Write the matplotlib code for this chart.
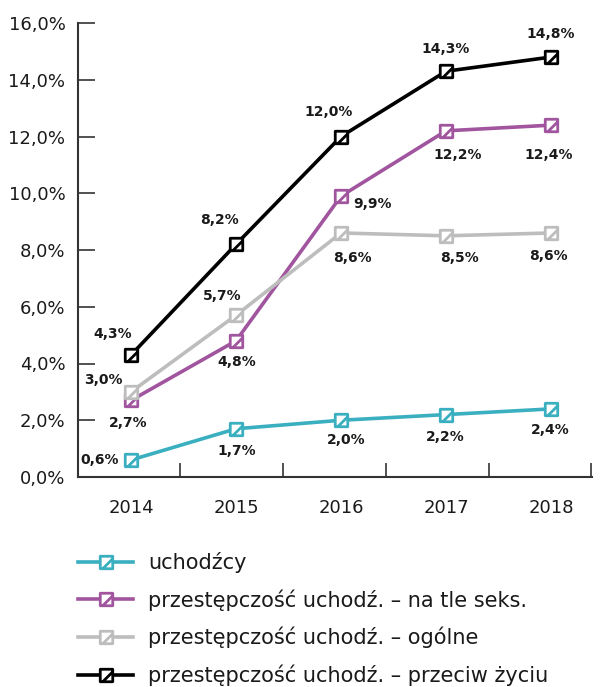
import numpy as np
import matplotlib.pyplot as plt
from matplotlib.path import Path
from matplotlib.lines import Line2D

years = ['2014', '2015', '2016', '2017', '2018']
uchodzcy = [0.6, 1.7, 2.0, 2.2, 2.4]
seks = [2.7, 4.8, 9.9, 12.2, 12.4]
ogolne = [3.0, 5.7, 8.6, 8.5, 8.6]
zycie = [4.3, 8.2, 12.0, 14.3, 14.8]

labels = ['uchodźcy',
          'przestępczość uchodź. – na tle seks.',
          'przestępczość uchodź. – ogólne',
          'przestępczość uchodź. – przeciw życiu']
colors = ['#3aafc0', '#a0559e', '#bdbdbd', '#000000']

# offsets of value labels (pixels)
offs = [
    [(-31, 0), (1, -22), (5, -20), (-1, -22), (-1, -21)],
    [(-3, -23), (1, -21), (31, -8), (12, -24), (-2, -30)],
    [(-28, 12), (-14, 19), (11, -25), (13, -22), (-3, -23)],
    [(-18, 21), (-17, 24), (-12, 24), (0, 22), (0, 23)],
]

verts = [(-1, -1), (1, -1), (1, 1), (-1, 1), (-1, -1), (-0.6, -1), (1, 0.6)]
codes = [Path.MOVETO, Path.LINETO, Path.LINETO, Path.LINETO, Path.CLOSEPOLY,
         Path.MOVETO, Path.LINETO]
mk = Path(verts, codes)

txt = '#1a1a1a'
fig = plt.figure(figsize=(6.05, 6.87), dpi=100)
ax = fig.add_axes([78/605, 210/687, 514/605, 454/687])

x = np.arange(len(years))
series = [uchodzcy, seks, ogolne, zycie]
for i, s in enumerate(series):
    ax.plot(x, s, color=colors[i], lw=2.6, marker=mk, ms=9,
            mfc='white', mec=colors[i], mew=2, zorder=3+i)
    for j, v in enumerate(s):
        ax.annotate(f'{v:.1f}%'.replace('.', ','), (x[j], v),
                    xytext=offs[i][j], textcoords='offset pixels',
                    ha='center', va='center', fontsize=10,
                    fontweight='bold', color=txt)

ax.set_ylim(0, 16)
ax.set_xlim(-0.505, 4.39)
ax.set_yticks(np.arange(0, 17, 2))
ax.set_yticklabels([f'{v:.1f}%'.replace('.', ',') for v in np.arange(0, 17, 2)])
ax.set_xticks([0.467, 1.448, 2.43, 3.41, 4.385])
ax.set_xticklabels([])
ax.set_xticks(x, minor=True)
ax.set_xticklabels(years, minor=True)
ax.tick_params(axis='x', which='major', direction='in', length=10, width=1.2, color='#333333')
ax.tick_params(axis='x', which='minor', length=0, pad=16, labelsize=13, labelcolor=txt)
ax.tick_params(axis='y', direction='in', length=12, width=1.2, color='#333333',
               labelsize=13, labelcolor=txt, pad=9)
for sp in ['top', 'right']:
    ax.spines[sp].set_visible(False)
for sp in ['left', 'bottom']:
    ax.spines[sp].set_linewidth(1.5)
    ax.spines[sp].set_color('#333333')

handles = [Line2D([], [], color=c, lw=2.6, marker=mk, ms=9, mfc='white',
                  mec=c, mew=2) for c in colors]
fig.legend(handles, labels, loc='upper left', bbox_to_anchor=(78/605, 135/687),
           frameon=False, fontsize=15, handlelength=2.64, handletextpad=0.72,
           labelspacing=0.78, borderpad=0, borderaxespad=0, labelcolor=txt)

fig.savefig('out.png', dpi=100)
